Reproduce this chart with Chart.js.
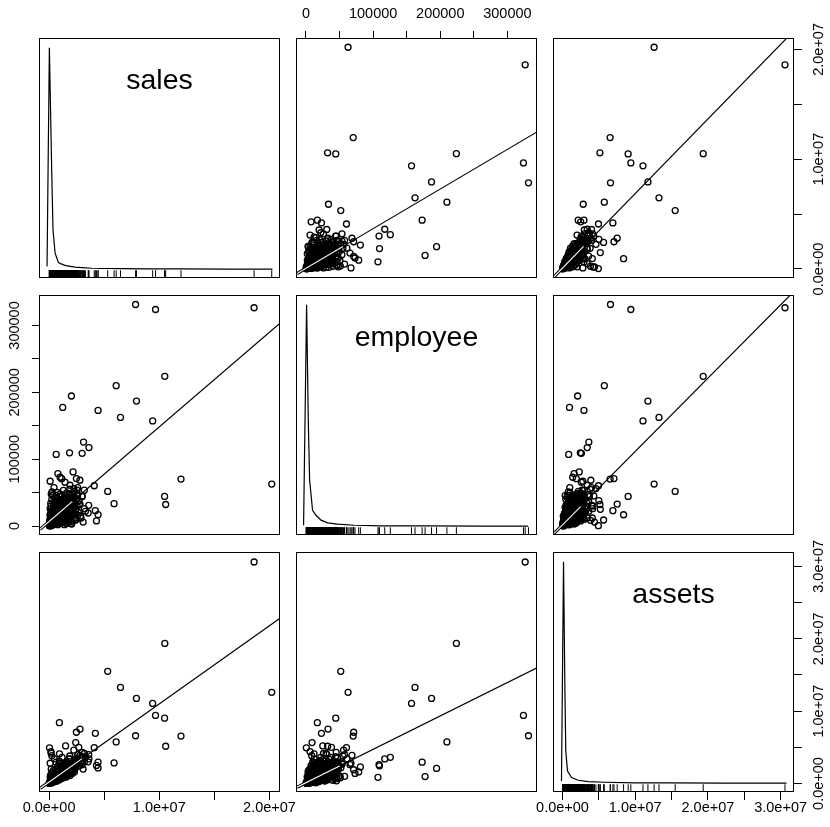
<!DOCTYPE html>
<html><head><meta charset="utf-8">
<script src="https://cdn.jsdelivr.net/npm/chart.js@4/dist/chart.umd.min.js"></script>
<style>
html,body{margin:0;padding:0;background:#fff;}
#wrap{position:relative;width:830px;height:827px;overflow:hidden;background:#fff;}
#wrap canvas{position:absolute;left:0;top:0;}
</style></head><body><div id="wrap"></div>
<script>
// ---------------- DATA ----------------
const variableNames = ['sales', 'employee', 'assets'];

const sales = [
 7850000,9660000,18600000,10500000,6090000,2030000,7930000,1240000,4450000,6480000,
 9400000,3130000,3620000,3000000,1860000,650000,11970000,20200000,10480000,10580000,
 5320000,5900000,4100000,4450000,4300000,4200000,3550000,3090000,100000,800000,
 2180000,940000,2810000,2480000,2420000,40000,180000,950000,1500000,3200000,
 2540000,2800000,270000,1150000,1000000,1450000,450000,1900000,2250000,3000000,
 2700000,3300000,2900000,3600000,
 30000,50000,80000,100000,120000,150000,40000,70000,110000,180000,
 200000,220000,60000,90000,140000,250000,270000,160000,20000,300000,
 240000,130000,50000,320000,290000,190000,350000,80000,380000,210000,
 400000,170000,430000,330000,60000,460000,260000,500000,100000,480000,
 530000,360000,560000,230000,600000,410000,150000,630000,580000,300000,
 660000,700000,730000,440000,760000,800000,510000,840000,280000,870000,
 900000,680000,940000,390000,980000,1010000,780000,1050000,550000,1090000,
 1120000,810000,1160000,120000,1200000,610000,1240000,960000,1280000,470000,
 1320000,1360000,90000,1400000,720000,1450000,1100000,1500000,200000,1540000,
 1580000,890000,1630000,1670000,1260000,1720000,1760000,590000,1800000,1850000,
 1030000,1900000,1940000,1420000,1990000,2030000,340000,2080000,2130000,1600000,
 2180000,2230000,750000,2280000,2340000,2400000,2460000,1300000,2520000,1880000,
 1180000,930000,640000,490000,250000,180000,1560000,2050000,2430000,2650000,
 2750000,2850000,3000000,2600000,3200000,
 500000,600000,700000,800000,900000,1000000,1100000,550000,650000,750000,
 1200000,1300000,1400000,1500000,1600000,1700000,1800000,1900000,1250000,1350000,
 2000000,2100000,2200000,2300000,2400000,2500000,2600000,2050000,2150000,2250000,
 300000,350000,400000,450000,500000,250000,300000,400000,600000,800000,
 950000,1050000,1150000,1250000,1350000,1450000,1550000,1650000,1750000,1850000,
 1950000,2050000,2100000,2350000,2450000,2550000,1700000,1500000,1300000,1100000,
 900000,700000,500000,350000,200000,450000,650000,850000,1000000,700000,
 900000,1100000,1300000,1500000,1700000,1900000,2100000,2300000,1400000,1600000,
 1800000,1200000,1000000,800000,600000,400000,250000,150000,100000,200000,
 750000,950000,1150000,1350000,1600000,1800000,2000000,2200000,2400000,2600000
];
const employee = [
 331400,323900,326500,224000,209900,194500,187000,177400,173000,162400,
 157200,125600,117300,108800,109500,107200,70300,62700,44300,32200,
 51800,33500,60300,17000,7700,23000,19500,6000,67000,78500,
 81000,16900,32800,71000,9000,500,6000,12000,25000,53600,
 53600,68500,51100,70900,73000,65500,57500,61000,56000,45000,
 38000,22000,12000,31000,
 500,800,1200,600,2100,1800,2500,3000,1000,2600,
 1400,3300,4000,1900,900,2200,4100,3600,1100,2900,
 5000,4600,5500,1600,6000,400,3800,6800,5200,7400,
 2000,5800,4500,7000,8200,6300,8800,3100,9600,8000,
 5400,9900,2400,11000,7100,10500,12400,4000,9000,13100,
 11500,6200,13800,15000,8800,16200,17500,10100,18900,19000,
 5300,20300,14600,21600,12000,22800,3600,17800,24000,9300,
 25500,27000,15500,14800,20500,28500,11700,30000,24200,31500,
 7800,29000,17000,18400,33000,33800,4500,22000,22500,12800,
 36200,38000,27500,9500,40100,41500,19600,42800,31000,14400,
 44500,38600,23300,46000,6600,43000,45500,28800,48200,49500,
 17200,35500,50500,52000,9000,40500,25000,53500,47000,55000,
 36500,26000,19500,12200,8500,30000,4000,3000,12000,20500,
 32000,15000,44000,57500,26000,
 8000,14000,20000,26000,32000,38000,44000,30000,36000,42000,
 6000,12000,18000,24000,30000,36000,42000,48000,28000,34000,
 10000,16000,22000,28000,34000,40000,46000,4000,32000,38000,
 10000,16000,22000,28000,34000,40000,46000,5000,3000,2000,
 7000,13000,19000,25000,31000,37000,43000,8000,14000,20000,
 26000,36000,44000,18000,10000,30000,24000,10000,40000,28000,
 16000,10000,18000,24000,14000,36000,46000,40000,48000,28000,
 22000,34000,16000,46000,30000,8000,24000,44000,2000,20000,
 34000,20000,30000,12000,22000,30000,20000,34000,26000,48000,
 5000,4000,9000,6000,4000,12000,28000,12000,24000,16000
];
const assets = [
 6600000,9400000,30600000,19350000,5750000,2080000,11750000,960000,2950000,13270000,
 11070000,3620000,3400000,2600000,2450000,850000,6550000,12600000,9030000,5150000,
 15500000,2850000,4950000,2160000,2500000,6930000,3000000,2000000,2800000,1600000,
 2300000,8400000,7520000,7080000,5650000,4930000,4400000,4100000,5200000,3000000,
 2700000,3900000,800000,1900000,1400000,2600000,1000000,3400000,4600000,4300000,
 5000000,3600000,2900000,4000000,
 40000,30000,90000,120000,80000,160000,60000,110000,50000,200000,
 150000,260000,80000,190000,240000,120000,300000,100000,20000,340000,
 220000,140000,70000,280000,380000,170000,190000,120000,430000,290000,
 310000,330000,250000,470000,150000,510000,180000,400000,270000,360000,
 600000,210000,440000,390000,550000,640000,230000,330000,700000,460000,
 610000,480000,770000,350000,830000,680000,580000,940000,260000,730000,
 660000,890000,1050000,410000,560000,990000,790000,1160000,690000,810000,
 1230000,520000,1000000,110000,1340000,740000,920000,1110000,1460000,500000,
 1200000,1070000,300000,1580000,860000,1390000,710000,1690000,490000,1140000,
 1780000,970000,1420000,1280000,1850000,1960000,1510000,630000,2100000,1310000,
 1260000,2230000,1700000,1640000,2010000,2400000,370000,1880000,2600000,2500000,
 2320000,2800000,1030000,2170000,1940000,3050000,3300000,2730000,3550000,3800000,
 3600000,3100000,2950000,3400000,3850000,4200000,900000,1600000,2650000,3150000,
 2450000,2900000,3700000,4000000,4150000,
 700000,500000,900000,800000,1100000,1000000,1400000,600000,1000000,1200000,
 1300000,1100000,1600000,1400000,1800000,1700000,2100000,2000000,1500000,1700000,
 2200000,1900000,2400000,2300000,2700000,2600000,3000000,1800000,2500000,2900000,
 400000,500000,600000,550000,800000,450000,700000,350000,750000,950000,
 1200000,1300000,1250000,1600000,1500000,1900000,1800000,2000000,2200000,1900000,
 2500000,2400000,2800000,2600000,3000000,3300000,2700000,2500000,2800000,2200000,
 1800000,1500000,1200000,1000000,800000,1400000,1600000,2000000,2400000,350000,
 500000,700000,800000,1000000,1200000,1100000,1400000,1600000,900000,3000000,
 3400000,2600000,2800000,2400000,2000000,1800000,1500000,1200000,900000,2000000,
 600000,850000,950000,1150000,1400000,1600000,1800000,2100000,2200000,2800000
];

// axis ranges (data range padded as in R)
const salesRange = [-820000, 20950000];
const employeeRange = [-13400, 344100];
const assetsRange = [-1170000, 31840000];

// tick values and labels
const salesTicks = [0, 5e6, 1e7, 1.5e7, 2e7];
const salesTickLabels = ['0.0e+00', '', '1.0e+07', '', '2.0e+07'];
const employeeTicks = [0, 50000, 100000, 150000, 200000, 250000, 300000];
const employeeTickLabels = ['0', '', '100000', '', '200000', '', '300000'];
const assetsTicks = [0, 5e6, 1e7, 1.5e7, 2e7, 2.5e7, 3e7];
const assetsTickLabels = ['0.0e+00', '', '1.0e+07', '', '2.0e+07', '', '3.0e+07'];

// density curves (x in variable units, y = density / max density)
const salesDensityX = [-180000, 30000, 240000, 360000, 550000, 850000, 1100000, 1450000, 1800000, 2360000, 3000000, 3870000, 5000000, 6600000, 9000000, 12000000, 16000000, 20270000];
const salesDensityY = [0.012, 1.0, 0.449, 0.178, 0.072, 0.030, 0.024, 0.017, 0.014, 0.009, 0.007, 0.004, 0.003, 0.002, 0.0015, 0.001, 0.0005, 0.0];
const employeeDensityX = [-3600, 900, 3400, 5400, 9800, 14900, 22400, 32200, 47100, 72000, 111800, 180000, 260000, 331000];
const employeeDensityY = [0.004, 1.0, 0.478, 0.207, 0.072, 0.049, 0.027, 0.015, 0.009, 0.004, 0.0015, 0.001, 0.0005, 0.0];
const assetsDensityX = [-140000, 140000, 320000, 450000, 690000, 1240000, 2160000, 3540000, 5820000, 9950000, 15000000, 22000000, 30800000];
const assetsDensityY = [0.010, 1.0, 0.447, 0.146, 0.055, 0.025, 0.013, 0.007, 0.004, 0.001, 0.001, 0.0005, 0.0];

// least-squares lines [intercept, slope]  (row variable on column variable)
const fitSalesOnEmployee = [64000, 36.1];
const fitSalesOnAssets = [85000, 0.679];
const fitEmployeeOnSales = [6700, 0.01416];
const fitEmployeeOnAssets = [1760, 0.01097];
const fitAssetsOnSales = [194000, 1.081];
const fitAssetsOnEmployee = [108000, 46.1];

// ---------------- LAYOUT / STYLE ----------------
const FONT = 'Arial, "Liberation Sans", Helvetica, sans-serif';
const TICK_FONT_SIZE = 14.5;
const CW = 830, CH = 827;
const colLeft = [40, 297, 554], rowTop = [39, 296, 553], PW = 240, PH = 239;
const TICK = 8, AX = 40;
const DENS_RANGE = [-0.04, 1.04];
const RUG_TOP = -0.005;
// where the white core highlight of the fit line ends (in x units), per panel key
const coreEnd = {'0,1': 55000, '0,2': 2900000, '1,0': 2100000, '1,2': 2500000, '2,0': 3000000, '2,1': 50000};

const vars = [sales, employee, assets];
const ranges = [salesRange, employeeRange, assetsRange];
const tickVals = [salesTicks, employeeTicks, assetsTicks];
const tickLabs = [salesTickLabels, employeeTickLabels, assetsTickLabels];
const densX = [salesDensityX, employeeDensityX, assetsDensityX];
const densY = [salesDensityY, employeeDensityY, assetsDensityY];
const fits = {'0,1': fitSalesOnEmployee, '0,2': fitSalesOnAssets, '1,0': fitEmployeeOnSales,
              '1,2': fitEmployeeOnAssets, '2,0': fitAssetsOnSales, '2,1': fitAssetsOnEmployee};

const mctx = document.createElement('canvas').getContext('2d');
mctx.font = TICK_FONT_SIZE + 'px ' + FONT;
function widest(labels) { return Math.max.apply(null, labels.map(l => mctx.measureText(l).width)); }

const framePlugin = {
  id: 'frame',
  afterDraw(chart) {
    const a = chart.chartArea, ctx = chart.ctx;
    ctx.save(); ctx.strokeStyle = '#000'; ctx.lineWidth = 1;
    ctx.strokeRect(a.left - 0.5, a.top - 0.5, a.right - a.left, a.bottom - a.top);
    ctx.restore();
  }
};
const labelPlugin = {
  id: 'panelLabel',
  afterDatasetsDraw(chart, args, opts) {
    if (!opts || !opts.text) return;
    const a = chart.chartArea, ctx = chart.ctx;
    ctx.save(); ctx.fillStyle = '#000'; ctx.font = '28.5px ' + FONT;
    ctx.textAlign = 'center'; ctx.textBaseline = 'alphabetic';
    ctx.fillText(opts.text, (a.left + a.right) / 2 - 0.5, a.top + 50);
    ctx.restore();
  }
};

function axis(varIdx, position, visible) {
  const isX = position === 'top' || position === 'bottom';
  const cfg = {type: 'linear', position: position, min: ranges[varIdx][0], max: ranges[varIdx][1], display: visible};
  if (!visible) return cfg;
  const ticks = {autoSkip: false, color: '#000', font: {size: TICK_FONT_SIZE, family: FONT},
                 callback: (v, i) => tickLabs[varIdx][i]};
  if (isX) { ticks.minRotation = 0; ticks.maxRotation = 0; }
  if (position === 'top') ticks.padding = 8.3;
  if (position === 'bottom') ticks.padding = -0.8;
  if (!isX) {
    ticks.minRotation = 90; ticks.maxRotation = 90; ticks.crossAlign = 'center';
    const off = position === 'left' ? 25 : 24.5;
    ticks.padding = off - TICK - widest(tickLabs[varIdx]) / 2;
  }
  cfg.ticks = ticks;
  cfg.grid = {display: true, drawOnChartArea: false, drawTicks: true, tickLength: TICK, color: '#000', lineWidth: 1};
  cfg.border = {display: false};
  cfg.afterBuildTicks = s => { s.ticks = tickVals[varIdx].map(v => ({value: v})); };
  cfg.afterFit = s => {
    if (isX) s.height = AX; else s.width = AX;
    s.paddingLeft = 0; s.paddingRight = 0; s.paddingTop = 0; s.paddingBottom = 0;
  };
  return cfg;
}

function makePanel(r, c) {
  const wrap = document.getElementById('wrap');
  const cv = document.createElement('canvas');
  cv.width = CW; cv.height = CH; cv.style.width = CW + 'px'; cv.style.height = CH + 'px';
  wrap.appendChild(cv);

  const topAx = r === 0 && c === 1;
  const botAx = r === 2 && (c === 0 || c === 2);
  const leftAx = c === 0 && r === 1;
  const rightAx = c === 2 && (r === 0 || r === 2);
  const L = colLeft[c], T = rowTop[r];
  const padding = {
    left: L - (leftAx ? AX : 0),
    top: T - (topAx ? AX : 0),
    right: CW - (L + PW) - (rightAx ? AX : 0),
    bottom: CH - (T + PH) - (botAx ? AX : 0)
  };
  const xPos = topAx ? 'top' : 'bottom';
  const yPos = leftAx ? 'left' : 'right';
  const scales = {x: axis(c, xPos, topAx || botAx)};
  const datasets = [];
  const plugins = [framePlugin];
  const pluginOpts = {legend: {display: false}, tooltip: {enabled: false}};

  if (r === c) {
    scales.y = {type: 'linear', display: false, min: DENS_RANGE[0], max: DENS_RANGE[1]};
    if (rightAx || leftAx) scales.yAx = axis(r, yPos, true);
    datasets.push({
      data: densX[c].map((v, i) => ({x: v, y: densY[c][i]})),
      borderColor: '#000', borderWidth: 1.2, pointRadius: 0, tension: 0, fill: false, yAxisID: 'y', order: 0
    });
    const rug = [];
    vars[c].forEach(v => { rug.push({x: v, y: DENS_RANGE[0]}, {x: v, y: RUG_TOP}, {x: v, y: null}); });
    datasets.push({data: rug, borderColor: '#000', borderWidth: 1, pointRadius: 0, spanGaps: false,
                   tension: 0, fill: false, yAxisID: 'y', order: 1});
    plugins.push(labelPlugin);
    pluginOpts.panelLabel = {text: variableNames[c]};
  } else {
    scales.y = axis(r, yPos, leftAx || rightAx);
    const key = r + ',' + c;
    const f = fits[key];
    const x0 = ranges[c][0], x1 = ranges[c][1], xc = coreEnd[key];
    const line = (a, b) => [{x: a, y: f[0] + f[1] * a}, {x: b, y: f[0] + f[1] * b}];
    datasets.push({data: line(x0, xc), borderColor: '#fff', borderWidth: 1.1, pointRadius: 0, fill: false, order: 0});
    datasets.push({data: line(x0, xc), borderColor: '#000', borderWidth: 3.2, pointRadius: 0, fill: false, order: 1});
    datasets.push({data: line(x0, x1), borderColor: '#000', borderWidth: 1.2, pointRadius: 0, fill: false, order: 2});
    datasets.push({
      data: vars[c].map((v, i) => ({x: v, y: vars[r][i]})),
      showLine: false, pointRadius: 3.0, pointBorderWidth: 1.3, pointBorderColor: '#000',
      pointBackgroundColor: 'rgba(0,0,0,0)', borderColor: '#000', clip: false, order: 3
    });
  }

  new Chart(cv, {
    type: 'line',
    data: {datasets: datasets},
    plugins: plugins,
    options: {
      responsive: false, maintainAspectRatio: false, animation: false, devicePixelRatio: 1,
      events: [], layout: {padding: padding}, scales: scales, plugins: pluginOpts,
      elements: {line: {borderCapStyle: 'butt'}}
    }
  });
}

for (let r = 0; r < 3; r++) for (let c = 0; c < 3; c++) makePanel(r, c);
</script>
</body></html>
